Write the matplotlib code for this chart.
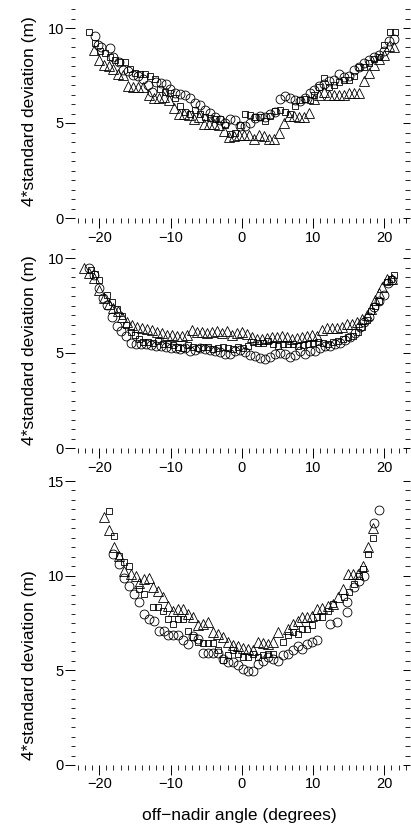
import matplotlib
matplotlib.use('Agg')
import matplotlib.pyplot as plt
from matplotlib.ticker import MultipleLocator

plt.rcParams['font.family'] = ['Liberation Sans', 'DejaVu Sans']

### Data (angle in degrees, 4*std in m)

## top panel
p1_circ_x = [-20.6, -20.2, -19.7, -18.5, -18.0, -17.2, -16.6, -15.9, -15.2, -14.5, -13.8, -13.1,
             -12.6, -12.0, -11.4, -10.7, -10.1, -9.4, -8.7, -8.0, -7.3, -6.6, -5.9, -5.2, -4.5,
             -3.8, -3.1, -2.4, -1.7, -1.0, -0.3, 0.4, 1.1, 1.8, 2.5, 3.2, 3.9, 4.6, 5.3, 6.0,
             6.7, 7.4, 8.1, 8.8, 9.5, 10.2, 10.9, 11.6, 12.3, 13.0, 13.7, 14.4, 15.1, 15.8,
             16.5, 17.2, 17.9, 18.6, 19.3, 20.0, 20.7, 21.3]
p1_circ_y = [9.6, 9.1, 9.0, 8.95, 8.5, 8.2, 7.8, 7.75, 7.55, 7.5, 7.3, 7.0,
             6.65, 7.15, 7.1, 7.05, 6.8, 6.6, 6.55, 6.5, 6.3, 6.05, 5.95, 5.7, 5.55,
             5.3, 5.15, 5.0, 5.2, 5.15, 4.85, 4.85, 5.0, 5.25, 5.35, 5.3, 5.45, 5.6, 6.25, 6.4,
             6.3, 6.2, 6.15, 6.3, 6.6, 6.75, 6.95, 7.05, 7.2, 7.25, 7.6, 7.4, 7.45, 7.8,
             7.95, 8.15, 8.3, 8.5, 8.6, 8.8, 9.3, 9.4]

p1_sq_x = [-21.5, -20.6, -19.9, -19.2, -18.5, -17.8, -17.1, -16.4, -15.7, -15.0, -14.3, -13.6,
           -12.9, -12.2, -11.5, -10.8, -10.1, -9.4, -8.7, -8.0, -7.3, -6.6, -5.9, -5.2, -4.5,
           -3.8, -3.1, -2.4, -1.7, -1.0, -0.3, 0.4, 1.1, 1.8, 2.5, 3.2, 3.9, 4.6, 5.3, 6.0,
           6.7, 7.4, 8.1, 8.8, 9.5, 10.2, 10.9, 11.6, 12.3, 13.0, 13.7, 14.4, 15.1, 15.8,
           16.5, 17.2, 17.9, 18.6, 19.3, 20.0, 20.8, 21.5]
p1_sq_y = [9.8, 9.2, 8.8, 8.7, 8.45, 8.3, 8.2, 8.2, 7.85, 7.65, 7.6, 7.6,
           7.45, 7.3, 6.8, 6.65, 6.6, 6.3, 5.9, 5.6, 5.5, 5.7, 5.5, 5.3, 5.25,
           5.2, 5.2, 4.9, 4.4, 4.45, 4.9, 5.5, 5.4, 5.3, 5.3, 5.1, 5.35, 5.65, 5.7, 5.6,
           5.5, 5.9, 6.2, 6.25, 6.2, 6.45, 6.9, 7.35, 6.9, 7.0, 7.15, 7.25, 7.25, 7.45,
           7.95, 7.95, 8.15, 8.35, 8.5, 9.1, 9.8, 9.8]

p1_tri_x = [-20.8, -20.1, -19.4, -18.7, -18.0, -17.3, -16.6, -15.9, -15.2, -14.5, -13.8, -13.0,
            -12.3, -11.6, -10.9, -10.2, -9.5, -8.8, -8.1, -7.4, -6.7, -6.0, -5.3, -4.6, -3.9,
            -3.2, -2.5, -1.8, -1.1, -0.4, 0.3, 1.0, 1.7, 2.4, 3.1, 3.8, 4.5, 5.2, 5.9, 6.6,
            7.3, 8.0, 8.7, 9.4, 10.1, 10.8, 11.5, 12.2, 12.9, 13.6, 14.3, 15.0, 15.7, 16.4,
            17.1, 17.8, 18.5, 19.2, 19.9, 20.6, 21.3]
p1_tri_y = [8.85, 8.3, 8.05, 8.0, 7.85, 7.6, 7.55, 6.95, 6.9, 6.9, 6.9, 6.45,
            6.3, 6.3, 6.35, 6.2, 5.8, 5.5, 5.5, 5.4, 5.2, 5.3, 4.95, 4.95, 4.95,
            4.9, 4.6, 4.25, 4.3, 4.35, 4.35, 4.35, 4.15, 4.35, 4.3, 4.15, 4.15, 4.5, 5.0, 5.35,
            5.35, 5.3, 5.3, 5.55, 6.25, 6.5, 6.65, 6.5, 6.45, 6.45, 6.5, 6.6, 6.6, 6.6,
            7.2, 7.65, 8.05, 8.35, 8.6, 9.05, 9.0]

## middle panel
p2_circ_x = [-21.4, -20.8, -20.1, -19.5, -18.9, -18.2, -17.5, -17.0, -16.3, -15.6, -14.9, -14.2,
             -13.5, -12.8, -12.1, -11.4, -10.7, -10.0, -9.3, -8.6, -7.9, -7.2, -6.5, -5.8, -5.1,
             -4.4, -3.7, -3.0, -2.3, -1.6, -0.9, -0.2, 0.5, 1.2, 1.9, 2.6, 3.3, 4.0, 4.7, 5.4,
             6.1, 6.8, 7.5, 8.2, 8.9, 9.6, 10.3, 11.0, 11.7, 12.4, 13.1, 13.8, 14.5, 15.2,
             15.9, 16.6, 17.2, 17.8, 18.5, 19.2, 19.9, 20.5, 21.1]
p2_circ_y = [9.5, 9.1, 8.4, 7.9, 7.55, 6.9, 6.4, 6.15, 5.9, 5.55, 5.5, 5.45,
             5.45, 5.4, 5.35, 5.35, 5.3, 5.25, 5.25, 5.2, 5.25, 5.1, 5.15, 5.25, 5.2,
             5.15, 5.1, 5.05, 4.95, 4.95, 5.1, 5.15, 5.05, 4.9, 4.85, 4.75, 4.7, 4.8, 4.95, 5.0,
             4.95, 4.8, 4.9, 5.1, 4.95, 5.1, 5.1, 5.25, 5.35, 5.35, 5.45, 5.55, 5.7, 5.85,
             6.05, 6.35, 6.65, 6.9, 7.4, 7.75, 8.05, 8.7, 8.85]

p2_sq_x = [-21.1, -20.6, -20.1, -18.9, -18.2, -17.5, -16.8, -16.2, -15.6, -15.0, -14.4, -13.8,
           -13.1, -12.4, -11.7, -11.0, -10.3, -9.6, -8.9, -8.2, -7.5, -6.8, -6.1, -5.4, -4.7,
           -4.0, -3.3, -2.6, -1.9, -1.2, -0.5, 0.2, 0.9, 1.6, 2.3, 3.0, 3.7, 4.4, 5.1, 5.8,
           6.5, 7.2, 7.9, 8.6, 9.3, 10.0, 10.7, 11.4, 12.1, 12.8, 13.5, 14.2, 14.9, 15.6,
           16.3, 16.9, 17.5, 18.1, 18.7, 19.3, 20.4, 21.0, 21.4]
p2_sq_y = [9.35, 9.15, 8.85, 8.05, 7.7, 7.3, 6.95, 6.45, 6.1, 5.95, 5.75, 5.6,
           5.6, 5.55, 5.65, 5.5, 5.45, 5.4, 5.3, 5.25, 5.4, 5.3, 5.25, 5.3, 5.3,
           5.2, 5.25, 5.3, 5.25, 5.2, 5.3, 5.25, 5.35, 5.6, 5.55, 5.55, 5.65, 5.45, 5.35, 5.5,
           5.45, 5.5, 5.35, 5.4, 5.5, 5.55, 5.6, 5.55, 5.45, 5.6, 5.65, 5.75, 5.85, 5.9,
           6.1, 6.35, 6.75, 7.2, 7.5, 7.75, 8.75, 8.9, 9.1]

p2_tri_x = [-22.2, -21.4, -20.8, -20.1, -19.4, -18.7, -18.0, -17.3, -16.8, -16.1, -15.4, -14.7,
            -14.0, -13.3, -12.6, -11.9, -11.2, -10.5, -9.8, -9.1, -8.4, -7.7, -7.0, -6.3, -5.6,
            -4.9, -4.2, -3.5, -2.8, -2.1, -1.4, -0.7, 0.0, 0.7, 1.4, 2.1, 2.8, 3.5, 4.2, 4.9,
            5.6, 6.3, 7.0, 7.7, 8.4, 9.1, 9.8, 10.5, 11.2, 11.9, 12.6, 13.3, 14.0, 14.7,
            15.4, 16.1, 16.8, 17.5, 18.1, 18.7, 19.2, 19.7, 20.4, 21.1]
p2_tri_y = [9.45, 9.2, 8.95, 8.3, 7.9, 7.6, 7.35, 7.2, 6.9, 6.65, 6.45, 6.35,
            6.3, 6.25, 6.2, 6.1, 6.05, 5.95, 5.95, 5.9, 5.9, 5.95, 6.2, 6.1, 6.1,
            6.05, 6.1, 6.15, 6.05, 6.15, 5.95, 6.05, 6.1, 6.0, 5.85, 5.75, 5.75, 5.8, 5.85, 5.85,
            5.9, 5.85, 5.75, 5.8, 5.85, 5.9, 5.95, 5.9, 6.2, 6.3, 6.3, 6.3, 6.35, 6.55,
            6.55, 6.65, 6.8, 7.0, 7.3, 7.8, 8.15, 8.5, 8.9, 8.9]

## bottom panel
p3_circ_x = [-18.0, -17.2, -16.5, -15.8, -15.1, -14.4, -13.7, -13.0, -12.3, -11.6, -10.9, -10.3,
             -9.6, -8.9, -8.2, -7.5, -6.8, -6.1, -5.4, -4.7, -4.0, -3.3, -2.6, -1.9, -1.2,
             -0.5, 0.2, 0.9, 1.6, 2.3, 3.0, 3.7, 4.4, 5.1, 5.8, 6.5, 7.2, 7.9, 8.5, 9.2,
             9.9, 10.6, 12.4, 13.3, 14.7, 14.7, 15.8, 16.5, 17.2, 18.6, 19.3]
p3_circ_y = [11.15, 10.6, 9.9, 9.45, 9.05, 8.6, 7.98, 7.72, 7.6, 7.1, 7.07, 6.89,
             6.84, 6.89, 6.58, 6.4, 6.79, 6.67, 5.9, 5.9, 5.9, 5.9, 5.62, 5.44, 5.44,
             5.26, 5.09, 4.96, 4.96, 5.35, 5.49, 5.7, 5.6, 5.49, 5.79, 5.88, 6.05, 6.3, 6.14, 6.4,
             6.49, 6.58, 7.46, 7.54, 8.07, 8.6, 9.38, 9.74, 10.0, 12.8, 13.46]

p3_sq_x = [-18.6, -17.9, -17.2, -16.5, -15.8, -14.4, -13.7, -12.4, -11.7, -11.0, -10.3, -9.6,
           -8.9, -8.2, -7.5, -6.8, -6.1, -5.4, -4.7, -4.0, -3.3, -2.6, -1.9, -1.2, -0.5,
           0.2, 0.9, 1.6, 2.3, 3.0, 3.7, 4.4, 5.8, 6.5, 7.2, 7.9, 8.5, 9.2, 9.9, 10.6,
           11.3, 12.1, 12.8, 14.4, 15.1, 15.8, 16.5, 17.0, 17.7, 18.4]
p3_sq_y = [13.4, 12.1, 11.05, 10.7, 10.5, 9.3, 9.05, 8.33, 8.33, 8.16, 7.72, 7.46,
           7.72, 7.72, 7.07, 6.75, 6.49, 6.44, 6.44, 6.44, 6.05, 5.53, 5.79, 6.05, 5.88,
           5.7, 5.7, 5.88, 5.7, 5.8, 5.88, 5.85, 6.49, 6.84, 7.02, 6.93, 7.2, 7.2, 7.37, 7.81,
           7.81, 8.16, 8.51, 8.86, 9.12, 9.56, 10.0, 10.35, 11.17, 11.98]

p3_tri_x = [-19.3, -18.6, -17.9, -17.2, -16.5, -15.6, -14.9, -14.4, -13.7, -13.0, -12.4, -11.7,
            -11.0, -10.3, -9.6, -8.9, -8.2, -7.5, -6.8, -6.1, -5.4, -4.7, -4.0, -3.3, -2.6,
            -1.9, -1.2, -0.5, 0.2, 0.9, 1.6, 2.3, 3.0, 3.7, 4.4, 5.1, 6.5, 7.2, 7.9, 8.5,
            9.2, 9.9, 10.6, 11.3, 12.1, 12.8, 13.5, 14.2, 14.9, 15.6, 16.3, 17.0, 17.7, 18.4]
p3_tri_y = [13.1, 12.4, 11.5, 11.05, 10.27, 10.08, 10.0, 9.6, 9.82, 9.87, 9.4, 9.2,
            8.86, 8.4, 8.16, 8.25, 8.25, 7.95, 7.81, 7.37, 7.46, 7.54, 7.0, 6.93, 6.75,
            6.49, 6.32, 6.27, 6.2, 6.14, 6.1, 6.49, 6.44, 6.4, 6.49, 7.0, 7.2, 7.46, 7.6, 7.81,
            7.81, 7.86, 8.25, 8.3, 8.42, 8.5, 8.86, 9.3, 10.08, 10.08, 10.08, 10.5, 11.5, 12.5]

panels = [
    dict(circ=(p1_circ_x, p1_circ_y), sq=(p1_sq_x, p1_sq_y), tri=(p1_tri_x, p1_tri_y),
         rect=[75/411, 1 - 218/827, 335/411, 209/827], ymax=11, ylab_y=0.51),
    dict(circ=(p2_circ_x, p2_circ_y), sq=(p2_sq_x, p2_sq_y), tri=(p2_tri_x, p2_tri_y),
         rect=[75/411, 1 - 448/827, 335/411, 199.5/827], ymax=10.5, ylab_y=0.49),
    dict(circ=(p3_circ_x, p3_circ_y), sq=(p3_sq_x, p3_sq_y), tri=(p3_tri_x, p3_tri_y),
         rect=[75/411, 1 - 765/827, 335/411, 284/827], ymax=15, ylab_y=0.35),
]

### Plot
fig = plt.figure(figsize=(4.11, 8.27), dpi=100)

mk = dict(linestyle='none', markerfacecolor='none', markeredgecolor='black',
          markeredgewidth=0.6)

for i, p in enumerate(panels):
    ax = fig.add_axes(p['rect'])
    ax.plot(*p['circ'], marker='o', markersize=6.4, **mk)
    ax.plot(*p['sq'], marker='s', markersize=4.6, **mk)
    ax.plot(*p['tri'], marker='^', markersize=6.6, **mk)

    ax.set_xlim(-23.4, 23.6)
    ax.set_ylim(0, p['ymax'])
    for s in ax.spines.values():
        s.set_visible(False)

    ax.set_xticks([-20, -10, 0, 10, 20])
    ax.xaxis.set_minor_locator(MultipleLocator(1))
    ax.yaxis.set_major_locator(MultipleLocator(5))
    ax.yaxis.set_minor_locator(MultipleLocator(0.5))
    ax.tick_params(axis='x', which='major', direction='out', length=7, width=0.7,
                   pad=2, labelsize=10.5)
    ax.tick_params(axis='x', which='minor', direction='out', length=3.5, width=0.6)
    ax.tick_params(axis='y', which='major', direction='out', length=7, width=0.7,
                   pad=1, labelsize=10.5)
    ax.tick_params(axis='y', which='minor', direction='out', length=3, width=0.6)

    # right-hand tick marks, no labels
    sec = ax.secondary_yaxis('right')
    sec.spines['right'].set_visible(False)
    sec.yaxis.set_major_locator(MultipleLocator(5))
    sec.yaxis.set_minor_locator(MultipleLocator(0.5))
    sec.tick_params(which='major', direction='in', length=5, width=0.7, labelright=False)
    sec.tick_params(which='minor', direction='in', length=3.5, width=0.6)

    ax.set_ylabel('4*standard deviation (m)', fontsize=12.5)
    ax.yaxis.set_label_coords(-0.112, p['ylab_y'])
    if i == 2:
        ax.set_xlabel('off\u2212nadir angle (degrees)', fontsize=12.5)
        ax.xaxis.set_label_coords(0.49, -0.152)

fig.savefig('out.png', dpi=100, facecolor='white')
